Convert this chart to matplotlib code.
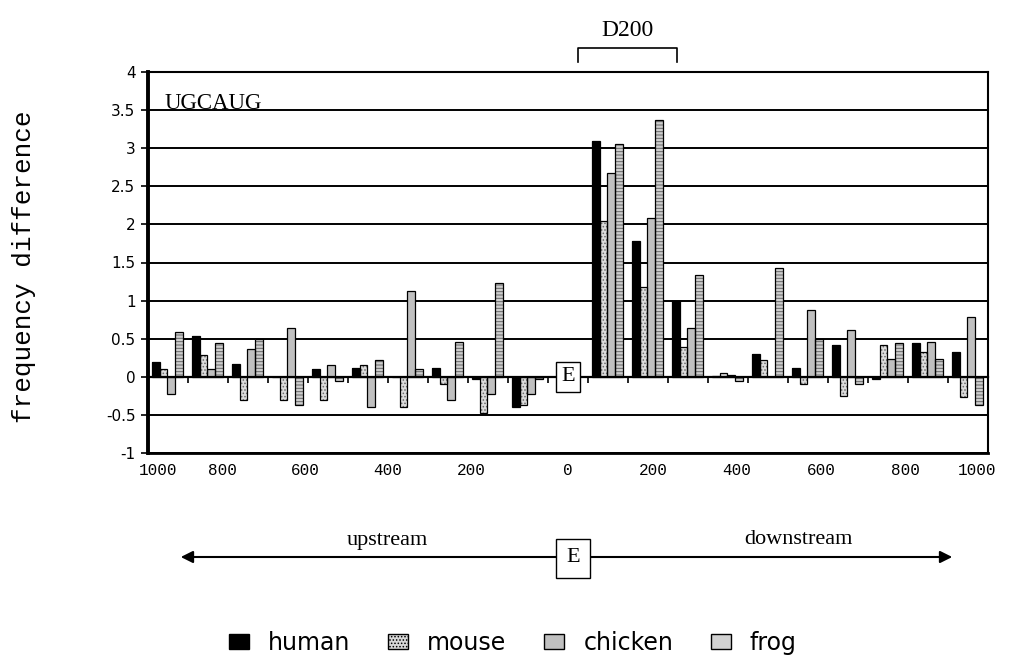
import numpy as np
import matplotlib.pyplot as plt
from matplotlib.patches import Patch, FancyArrowPatch
from matplotlib.lines import Line2D

# frequency difference per 100-nt window, upstream (1000..100), E, downstream (100..1000)
species = ['human', 'mouse', 'chicken', 'frog']
human = [0.20, 0.54, 0.17, 0.00, 0.10, 0.12, 0.00, 0.12, -0.03, -0.40, np.nan,
         3.10, 1.78, 0.99, 0.01, 0.30, 0.12, 0.42, -0.03, 0.44, 0.32]
mouse = [0.10, 0.29, -0.31, -0.31, -0.31, 0.15, -0.39, -0.10, -0.48, -0.37, np.nan,
         2.04, 1.18, 0.39, 0.05, 0.22, -0.09, -0.25, 0.42, 0.32, -0.26]
chicken = [-0.23, 0.10, 0.36, 0.64, 0.15, -0.39, 1.13, -0.30, -0.23, -0.23, np.nan,
           2.68, 2.09, 0.64, 0.03, 0.00, 0.88, 0.61, 0.24, 0.46, 0.78]
frog = [0.59, 0.44, 0.49, -0.37, -0.05, 0.22, 0.10, 0.46, 1.23, -0.03, np.nan,
        3.05, 3.37, 1.33, -0.05, 1.43, 0.49, -0.10, 0.44, 0.24, -0.37]
x_tick_labels = ['1000', '800', '600', '400', '200', '0', '200', '400', '600', '800', '1000']
y_tick_labels = ['-1', '-0.5', '0', '0.5', '1', '1.5', '2', '2.5', '3', '3.5', '4']

W, H = 1010, 661
def fx(px):
    return px / W
def fy(py):
    return 1 - py / H

plt.rcParams['hatch.linewidth'] = 0.7
fig = plt.figure(figsize=(W / 100, H / 100), dpi=100)
ax = fig.add_axes([fx(148), fy(453), fx(988) - fx(148), fy(72) - fy(453)])

n = len(human)
x = np.arange(n)
w = 0.19
styles = [
    dict(color='black', hatch=None, hc='black'),
    dict(color='#dcdcdc', hatch='.....', hc='#6a6a6a'),
    dict(color='#c0c0c0', hatch=None, hc='#c0c0c0'),
    dict(color='#cdcdcd', hatch='-----', hc='#666666'),
]
for i, vals in enumerate([human, mouse, chicken, frog]):
    pos = x + (i - 1.5) * w - 0.015
    st = styles[i]
    ax.bar(pos, vals, w, color=st['color'], hatch=st['hatch'], edgecolor=st['hc'],
           linewidth=0, zorder=3)
    ax.bar(pos, vals, w, fill=False, edgecolor='black', linewidth=0.9, zorder=4)

ax.set_xlim(-0.5, n - 0.5)
ax.set_ylim(-1, 4)
ax.set_yticks(np.arange(-1, 4.01, 0.5))
ax.set_yticklabels(y_tick_labels, fontsize=11, family='DejaVu Sans')
ax.tick_params(axis='y', direction='out', length=5, width=1.2, pad=4, color='black')
ax.yaxis.grid(True, color='black', linewidth=1.4, zorder=1)
ax.set_axisbelow(True)

# category axis drawn on the zero line
ax.spines['bottom'].set_position(('data', 0))
ax.spines['bottom'].set_linewidth(1.6)
ax.spines['bottom'].set_zorder(5)
ax.set_xticks(np.arange(0.5, n - 1, 1.0))
ax.set_xticklabels([])
ax.tick_params(axis='x', direction='out', length=4, width=1.2)
for s in ['top', 'right']:
    ax.spines[s].set_linewidth(1.5)
ax.spines['left'].set_linewidth(2.8)
ax.axhline(-1, color='black', linewidth=2.0, clip_on=False, zorder=5)

label_px = [158, 222, 305, 388, 471, 568, 653, 737, 821, 905, 977]
for px, lab in zip(label_px, x_tick_labels):
    ax.text((px - 148) / 40 - 0.5, -0.045, lab, transform=ax.get_xaxis_transform(),
            ha='center', va='center', family='Liberation Mono', fontsize=11.5)

ax.set_ylabel('frequency difference', family='Liberation Mono', fontsize=18.7)
ax.yaxis.set_label_coords(-0.133, 0.49)

ax.text(-0.08, 3.51, 'UGCAUG', family='Liberation Serif', fontsize=16.5,
        ha='left', va='baseline', zorder=6)
ax.text(10, 0, 'E', family='Liberation Serif', fontsize=16, ha='center', va='center',
        zorder=6, bbox=dict(boxstyle='square,pad=0.25', fc='white', ec='black', lw=1))

# D200 bracket
fig.add_artist(Line2D([fx(578), fx(578), fx(677), fx(677)],
                      [fy(62), fy(48), fy(48), fy(62)], color='black', lw=1.2))
fig.text(fx(627), fy(30), 'D200', family='Liberation Serif', fontsize=17,
         ha='center', va='center')

# upstream / downstream arrow
fig.add_artist(FancyArrowPatch((fx(178), fy(557)), (fx(955), fy(557)),
                               transform=fig.transFigure, arrowstyle='<|-|>',
                               mutation_scale=18, color='black', lw=1.5))
fig.text(fx(573), fy(558), 'E', family='Liberation Serif', fontsize=16,
         ha='center', va='center',
         bbox=dict(boxstyle='square,pad=0.45', fc='white', ec='black', lw=1))
fig.text(fx(387), fy(540), 'upstream', family='Liberation Serif', fontsize=16,
         ha='center', va='center')
fig.text(fx(798), fy(540), 'downstream', family='Liberation Serif', fontsize=16,
         ha='center', va='center')

handles = [Patch(facecolor='black', edgecolor='black', lw=1),
           Patch(facecolor='#d8d8d8', edgecolor='black', lw=1, hatch='.....'),
           Patch(facecolor='#c0c0c0', edgecolor='black', lw=1),
           Patch(facecolor='#d2d2d2', edgecolor='black', lw=1)]
fig.legend(handles, species, loc='center', bbox_to_anchor=(fx(513), fy(643)),
           ncol=4, frameon=False, handlelength=0.85, handleheight=0.62,
           handletextpad=0.8, columnspacing=1.6, prop={'family': 'DejaVu Sans', 'size': 17})

fig.savefig('out.png', dpi=100)
